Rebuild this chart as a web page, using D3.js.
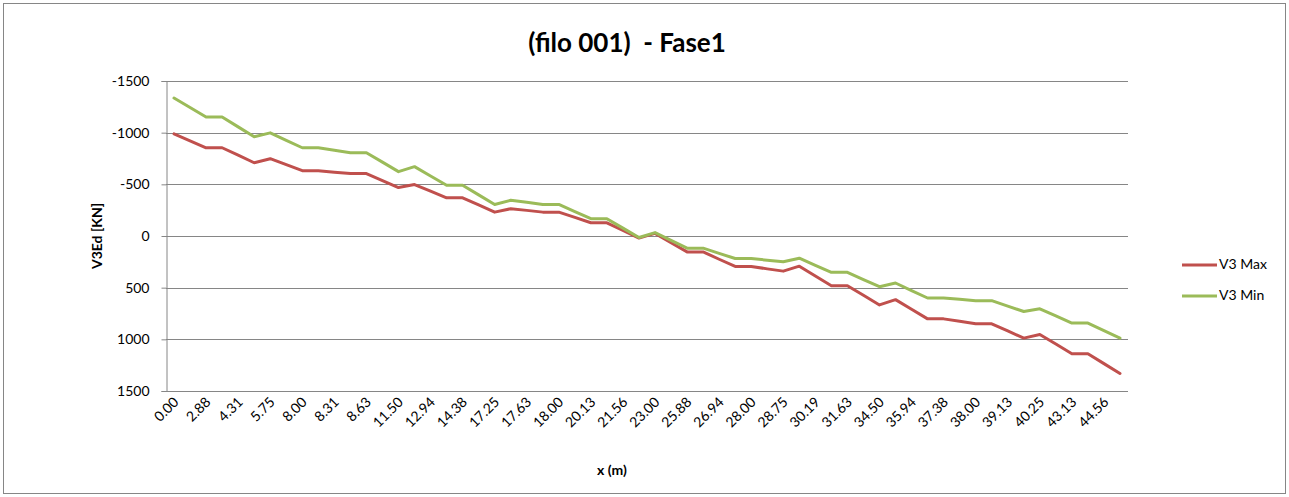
<!DOCTYPE html>
<html>
<head>
<meta charset="utf-8">
<script src="https://cdn.jsdelivr.net/npm/d3@7"></script>
<style>
  html, body { margin: 0; padding: 0; background: #ffffff; }
  svg { display: block; font-family: Lato, "Open Sans", sans-serif; }
</style>
</head>
<body>
<svg id="chart" width="1289" height="497"></svg>
<script>
// Positions along the pile (m): three stations per element (start, middle, end)
const xStations = [
  "0.00", "1.44", "2.88",  "2.88", "4.31", "5.75",  "5.75", "6.88", "8.00",
  "8.00", "8.31", "8.63",  "8.63", "10.06", "11.50", "11.50", "12.94", "14.38",
  "14.38", "15.81", "17.25", "17.25", "17.63", "18.00", "18.00", "19.06", "20.13",
  "20.13", "21.56", "23.00", "23.00", "24.44", "25.88", "25.88", "26.94", "28.00",
  "28.00", "28.38", "28.75", "28.75", "30.19", "31.63", "31.63", "33.06", "34.50",
  "34.50", "35.94", "37.38", "37.38", "37.69", "38.00", "38.00", "39.13", "40.25",
  "40.25", "41.69", "43.13", "43.13", "44.56", "46.00"
];

// Shear envelope V3Ed [KN]
const v3Max = [
  -988, -921, -854,  -854, -782, -709,  -748, -690, -632,
  -632, -618, -604,  -604, -537, -469,  -498, -434, -370,
  -370, -301, -231,  -264, -248, -231,  -231, -180, -128,
  -128, -54, 20,     -25, 65, 154,      154, 225, 295,
  295, 318, 340,     292, 387, 481,     481, 574, 667,
  616, 709, 802,     802, 826, 850,     850, 919, 988,
  953, 1046, 1139,   1139, 1235, 1331
];
const v3Min = [
  -1335, -1244, -1152,  -1152, -1056, -960,  -998, -926, -854,
  -854, -830, -806,     -806, -715, -623,    -671, -581, -491,
  -491, -398, -305,     -346, -326, -305,    -305, -236, -167,
  -167, -76, 15,        -33, 43, 118,        118, 168, 218,
  218, 234, 250,        215, 284, 352,       352, 422, 491,
  455, 528, 600,        600, 613, 626,       626, 679, 731,
  705, 774, 843,        843, 916, 988
];

const yTicks = [-1500, -1000, -500, 0, 500, 1000, 1500];
const seriesNames = ["V3 Max", "V3 Min"];
const seriesColors = ["#C0504D", "#9BBB59"];

const svg = d3.select("#chart");
const plot = { left: 166, right: 1128, top: 81, bottom: 391 };
const gridColor = "#868686";
const font = "Lato, 'Open Sans', sans-serif";

// Outer chart frame
svg.append("rect")
  .attr("x", 3.5).attr("y", 3.5)
  .attr("width", 1282).attr("height", 490)
  .attr("fill", "#fff").attr("stroke", gridColor).attr("stroke-width", 1);

const idx = d3.range(xStations.length);
const x = d3.scaleBand().domain(idx).range([plot.left, plot.right]);
const xc = i => x(i) + x.bandwidth() / 2;
const y = d3.scaleLinear().domain([-1500, 1500]).range([plot.top, plot.bottom]);

// Horizontal gridlines
svg.append("g")
  .selectAll("line")
  .data(yTicks)
  .join("line")
  .attr("x1", plot.left).attr("x2", plot.right)
  .attr("y1", d => Math.round(y(d)) + 0.5).attr("y2", d => Math.round(y(d)) + 0.5)
  .attr("stroke", gridColor).attr("stroke-width", 1);

// Value axis
const yAxis = svg.append("g")
  .attr("transform", `translate(${plot.left + 0.5},0)`)
  .call(d3.axisLeft(y).tickValues(yTicks).tickSize(5).tickPadding(12).tickFormat(d => String(d)));
yAxis.select(".domain").attr("stroke", gridColor);
yAxis.selectAll(".tick line").attr("stroke", gridColor);
yAxis.selectAll(".tick text")
  .attr("fill", "#000").style("font-size", "14px").style("font-family", font);

// Category axis, labelled on every second station
const xAxis = svg.append("g")
  .attr("transform", `translate(0,${Math.round(plot.bottom) + 0.5})`)
  .call(d3.axisBottom(x).tickValues(idx.filter(i => i % 2 === 0)).tickSize(0).tickFormat(i => xStations[i]));
xAxis.select(".domain").remove();
xAxis.selectAll(".tick text")
  .attr("fill", "#000")
  .style("font-size", "14px").style("font-family", font)
  .attr("text-anchor", "end")
  .attr("dy", null)
  .attr("transform", "translate(3,9) rotate(-45)")
  .attr("y", 0).attr("x", 0)
  .attr("dominant-baseline", "middle");

// Lines
const line = d3.line().x((d, i) => xc(i)).y(d => y(d));
[v3Max, v3Min].forEach((s, k) => {
  svg.append("path")
    .datum(s)
    .attr("d", line)
    .attr("fill", "none")
    .attr("stroke", seriesColors[k])
    .attr("stroke-width", 3)
    .attr("stroke-linejoin", "round")
    .attr("stroke-linecap", "round");
});

// Titles
svg.append("text")
  .attr("x", 627).attr("y", 52)
  .attr("text-anchor", "middle")
  .attr("xml:space", "preserve")
  .style("font-size", "26px").style("font-weight", "bold")
  .text("(filo 001)  - Fase1");

svg.append("text")
  .attr("transform", "translate(102,236) rotate(-90)")
  .attr("text-anchor", "middle")
  .style("font-size", "14px").style("font-weight", "bold")
  .text("V3Ed [KN]");

svg.append("text")
  .attr("x", 612).attr("y", 475)
  .attr("text-anchor", "middle")
  .style("font-size", "14px").style("font-weight", "bold")
  .text("x (m)");

// Legend
const legend = svg.append("g");
seriesNames.forEach((name, k) => {
  const ly = 265 + k * 31;
  legend.append("line")
    .attr("x1", 1182).attr("x2", 1217)
    .attr("y1", ly).attr("y2", ly)
    .attr("stroke", seriesColors[k]).attr("stroke-width", 3);
  legend.append("text")
    .attr("x", 1219).attr("y", ly)
    .attr("dominant-baseline", "middle")
    .style("font-size", "14px")
    .text(name);
});
</script>
</body>
</html>
